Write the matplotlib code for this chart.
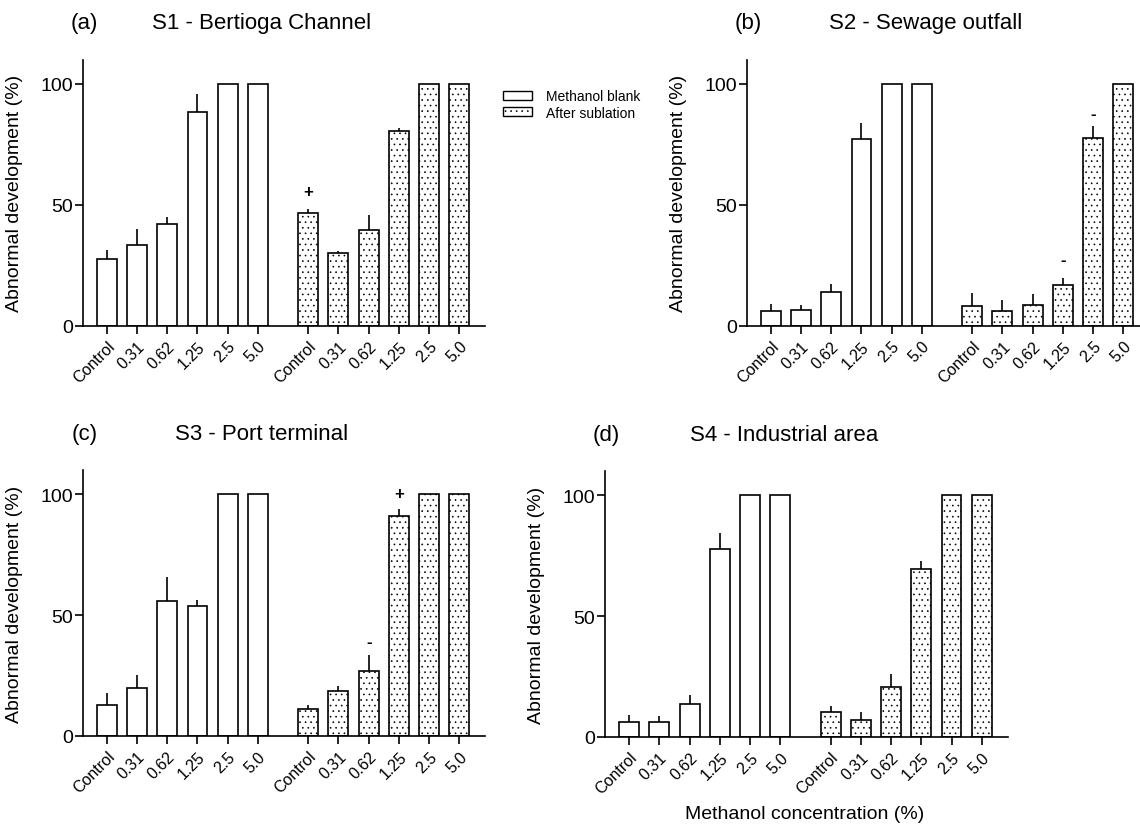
import numpy as np
import matplotlib.pyplot as plt
from matplotlib.patches import Patch

plt.rcParams['font.family'] = ['Liberation Sans', 'DejaVu Sans']
plt.rcParams['hatch.linewidth'] = 0.45
plt.rcParams['hatch.color'] = 'black'

concentrations = ['Control', '0.31', '0.62', '1.25', '2.5', '5.0']

# S1 - Bertioga Channel
s1_blank = [27.7, 33.5, 42.0, 88.4, 100, 100]
s1_blank_err = [3.4, 6.4, 3.0, 7.3, 0, 0]
s1_subl = [46.6, 30.2, 39.4, 80.7, 100, 100]
s1_subl_err = [1.6, 0.8, 6.2, 1.0, 0, 0]
s1_marks = [(0, '+', 55.5)]

# S2 - Sewage outfall
s2_blank = [6.2, 6.6, 13.8, 77.4, 100, 100]
s2_blank_err = [2.6, 1.8, 3.3, 6.6, 0, 0]
s2_subl = [8.1, 6.1, 8.7, 16.8, 77.5, 100]
s2_subl_err = [5.3, 4.6, 4.4, 2.8, 4.9, 0]
s2_marks = [(3, '-', 27.3), (4, '-', 87.9)]

# S3 - Port terminal
s3_blank = [12.8, 20.0, 55.9, 53.8, 100, 100]
s3_blank_err = [4.9, 5.2, 9.9, 2.6, 0, 0]
s3_subl = [11.0, 18.6, 26.8, 91.0, 100, 100]
s3_subl_err = [1.7, 2.2, 6.7, 2.9, 0, 0]
s3_marks = [(2, '-', 38.9), (3, '+', 100.3)]

# S4 - Industrial area
s4_blank = [6.2, 6.3, 13.8, 77.6, 100, 100]
s4_blank_err = [2.7, 2.2, 3.4, 6.6, 0, 0]
s4_subl = [10.2, 7.1, 20.5, 69.5, 100, 100]
s4_subl_err = [2.7, 3.2, 5.5, 3.4, 0, 0]
s4_marks = []

panels = [
    ('(a)', 'S1 - Bertioga Channel', s1_blank, s1_blank_err, s1_subl, s1_subl_err, s1_marks),
    ('(b)', 'S2 - Sewage outfall', s2_blank, s2_blank_err, s2_subl, s2_subl_err, s2_marks),
    ('(c)', 'S3 - Port terminal', s3_blank, s3_blank_err, s3_subl, s3_subl_err, s3_marks),
    ('(d)', 'S4 - Industrial area', s4_blank, s4_blank_err, s4_subl, s4_subl_err, s4_marks),
]

W, H = 1140, 828
fig = plt.figure(figsize=(W / 100, H / 100), dpi=100)

# axes boxes in pixels: left, top, width, height
boxes = [(82.7, 60.7, 402.3, 266), (746.7, 60.7, 402.3, 266),
         (82.7, 471, 402.3, 266), (605, 472, 402.5, 266)]

x1 = np.arange(6)
x2 = x1 + 6.667
bw = 0.66

for (tag, title, blank, blank_err, subl, subl_err, marks), (l, t, w, h) in zip(panels, boxes):
    ax = fig.add_axes([l / W, 1 - (t + h) / H, w / W, h / H])
    ax.bar(x1, blank, width=bw, color='white', edgecolor='black', linewidth=1.2, zorder=2)
    ax.bar(x2, subl, width=bw, color='white', edgecolor='black', linewidth=1.2,
           hatch='...', zorder=2)
    ax.errorbar(x1, blank, yerr=[np.zeros(6), blank_err], fmt='none', ecolor='black',
                elinewidth=1.2, capsize=0, zorder=3)
    ax.errorbar(x2, subl, yerr=[np.zeros(6), subl_err], fmt='none', ecolor='black',
                elinewidth=1.2, capsize=0, zorder=3)
    for i, sym, yv in marks:
        ax.text(x2[i], yv, sym, ha='center', va='center', fontsize=12, fontweight='bold')

    ax.set_xlim(-0.8, 12.52)
    ax.set_ylim(0, 110)
    ax.set_yticks([0, 50, 100])
    ax.set_xticks(np.concatenate([x1, x2]))
    ax.set_xticklabels(concentrations * 2, rotation=45, ha='right',
                       rotation_mode='anchor', fontsize=11.5)
    ax.tick_params(axis='y', length=6, width=1.2, pad=1, labelsize=14)
    ax.tick_params(axis='x', length=6, width=1.2, pad=3)
    for s in ['top', 'right']:
        ax.spines[s].set_visible(False)
    for s in ['left', 'bottom']:
        ax.spines[s].set_linewidth(1.2)
    ax.set_ylabel('Abnormal development (%)', fontsize=14)
    ax.yaxis.set_label_coords(-60 / w, 0.5)

    ty = 1 - (t - 36.7) / H
    fig.text((l + 1.5) / W, ty, tag, ha='center', va='center', fontsize=16)
    fig.text((l + 179) / W, ty, title, ha='center', va='center', fontsize=16)

fig.text(804.5 / W, 1 - 815 / H, 'Methanol concentration (%)', ha='center', va='center',
         fontsize=14)

handles = [Patch(facecolor='white', edgecolor='black', linewidth=1.0, label='Methanol blank'),
           Patch(facecolor='white', edgecolor='black', linewidth=1.0, hatch='...',
                 label='After sublation')]
fig.legend(handles=handles, loc='upper left', bbox_to_anchor=(503 / W, 1 - 90 / H),
           frameon=False, fontsize=10, handlelength=2.1, handleheight=0.6,
           handletextpad=1.0, labelspacing=0.2, borderpad=0, borderaxespad=0)

fig.savefig('out.png', dpi=100)
